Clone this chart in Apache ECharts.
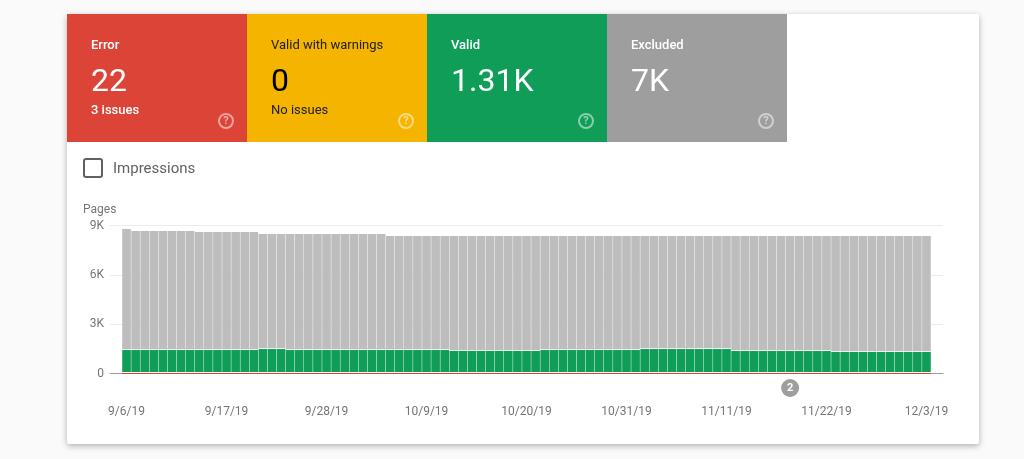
<!DOCTYPE html>
<html><head><meta charset="utf-8">
<style>html,body{margin:0;padding:0;background:#fafafa}#c{width:1024px;height:459px}</style>
<script src="https://cdn.jsdelivr.net/npm/echarts@6/dist/echarts.min.js"></script>
</head><body><div id="c"></div>
<script>
const categories = ["9/6/19","9/7/19","9/8/19","9/9/19","9/10/19","9/11/19","9/12/19","9/13/19","9/14/19","9/15/19","9/16/19","9/17/19","9/18/19","9/19/19","9/20/19","9/21/19","9/22/19","9/23/19","9/24/19","9/25/19","9/26/19","9/27/19","9/28/19","9/29/19","9/30/19",
"10/1/19","10/2/19","10/3/19","10/4/19","10/5/19","10/6/19","10/7/19","10/8/19","10/9/19","10/10/19","10/11/19","10/12/19","10/13/19","10/14/19","10/15/19","10/16/19","10/17/19","10/18/19","10/19/19","10/20/19","10/21/19","10/22/19","10/23/19","10/24/19","10/25/19","10/26/19","10/27/19","10/28/19","10/29/19","10/30/19","10/31/19",
"11/1/19","11/2/19","11/3/19","11/4/19","11/5/19","11/6/19","11/7/19","11/8/19","11/9/19","11/10/19","11/11/19","11/12/19","11/13/19","11/14/19","11/15/19","11/16/19","11/17/19","11/18/19","11/19/19","11/20/19","11/21/19","11/22/19","11/23/19","11/24/19","11/25/19","11/26/19","11/27/19","11/28/19","11/29/19","11/30/19",
"12/1/19","12/2/19","12/3/19"];
const errorValues = [22,22,22,22,22,22,22,22,22,22,22,22,22,22,22,22,22,22,22,22,22,22,22,22,22,22,22,22,22,22,22,22,22,22,22,22,22,22,22,22,22,22,22,22,22,22,22,22,22,22,22,22,22,22,22,22,22,22,22,22,22,22,22,22,22,22,22,22,22,22,22,22,22,22,22,22,22,22,22,22,22,22,22,22,22,22,22,22,22];
const validValues = [1430,1430,1430,1430,1430,1430,1430,1430,1430,1430,1430,1430,1430,1430,1430,
1490,1490,1490,
1430,1430,1430,1430,1430,1430,1430,1430,1430,1430,1430,1430,1430,1430,1430,1430,1430,1430,
1380,1380,1380,1380,1380,1380,1380,1380,1380,1380,
1430,1430,1430,1430,1430,1430,1430,1430,1430,1430,1430,
1490,1490,1490,1490,1490,1490,1490,1490,1490,1490,
1370,1370,1370,1370,1370,1370,1370,1370,1370,1370,1370,
1310,1310,1310,1310,1310,1310,1310,1310,1310,1310,1310];
const excludedValues = [7338,
7213,7213,7213,7213,7213,7213,7213,
7148,7148,7148,7148,7148,7148,7148,
6968,6968,6968,
7028,7028,7028,7028,7028,7028,7028,7028,7028,7028,7028,
6908,6908,6908,6908,6908,6908,6908,
6958,6958,6958,6958,6958,6958,6958,6958,6958,6958,
6908,6908,6908,6908,6908,6908,6908,6908,6908,6908,6908,
6848,6848,6848,6848,6848,6848,6848,6848,6848,6848,
6968,6968,6968,6968,6968,6968,6968,6968,6968,6968,6968,
7028,7028,7028,7028,7028,7028,7028,7028,7028,7028,7028];
const yTicks = [0,3000,6000,9000];
const eventDates = ["11/18/19"];
const eventCounts = [2];
const tileLabels = ["Error","Valid with warnings","Valid","Excluded"];
const tileValues = ["22","0","1.31K","7K"];
const tileNotes = ["3 issues","No issues","",""];
const tileColors = ["#DB4437","#F4B400","#0F9D58","#9E9E9E"];
const tileInks = ["#ffffff","#212121","#ffffff","#ffffff"];

const F = 'Roboto';
const plotTop = 225.5, plotHeight = 148;
const gfx = [
  {type:'rect',z:-10,shape:{x:67,y:14,width:912,height:430,r:2},style:{fill:'#fff',shadowBlur:6,shadowOffsetY:2,shadowColor:'rgba(0,0,0,0.3)'}},
  {type:'rect',z:-9,shape:{x:84,y:159,width:18,height:18,r:2},style:{fill:'#fff',stroke:'#616161',lineWidth:2}},
  {type:'text',x:113,y:169,style:{text:'Impressions',font:'15px '+F,fill:'#616161',verticalAlign:'middle'}},
  {type:'text',x:83,y:210,style:{text:'Pages',font:'12px '+F,fill:'#757575',verticalAlign:'middle'}}
];
tileLabels.forEach((t,i)=>{
  const x = 67+180*i, ink = tileInks[i];
  gfx.push({type:'rect',z:-8,shape:{x:x,y:14,width:180,height:128},style:{fill:tileColors[i]}});
  gfx.push({type:'text',x:x+24,y:46,style:{text:t,font:(i===1?'400':'500')+' 13px '+F,fill:ink,verticalAlign:'middle'}});
  gfx.push({type:'text',x:x+24,y:83,style:{text:tileValues[i],font:'32px '+F,fill:i===1?'#000':ink,verticalAlign:'middle'}});
  if(tileNotes[i]) gfx.push({type:'text',x:x+24,y:110.5,style:{text:tileNotes[i],font:(i===1?'400':'500')+' 13px '+F,fill:ink,verticalAlign:'middle'}});
  gfx.push({type:'circle',shape:{cx:x+159,cy:121,r:7},style:{fill:'none',stroke:'rgba(255,255,255,0.5)',lineWidth:2}});
  gfx.push({type:'text',x:x+159,y:121.5,style:{text:'?',font:'700 11px '+F,fill:'rgba(255,255,255,0.55)',align:'center',verticalAlign:'middle'}});
});

const chart = echarts.init(document.getElementById('c'),null,{renderer:'canvas',devicePixelRatio:1});
const seam = 0.45;
const pairs = arr => arr.map((v,i)=>[i,v]);
const renderStack = layer => (params, api) => {
  const i = api.value(0);
  const base = api.coord([i,0]);
  const w = api.size([1,0])[0];
  const err = errorValues[i], val = validValues[i], exc = excludedValues[i];
  const yErrVal = api.coord([i,err+val])[1];
  let y1, y2, fill, gap = seam;
  if (layer === 'error')      { y1 = base[1]; y2 = base[1]-1; fill = '#DB4437'; gap = 0; }
  else if (layer === 'valid') { y1 = base[1]-2; y2 = yErrVal; fill = '#0F9D58'; }
  else                        { y1 = yErrVal-0.8; y2 = api.coord([i,err+val+exc])[1]; fill = '#BDBDBD'; }
  return {type:'rect',shape:{x:base[0]-w/2+gap/2,y:y2,width:w-gap,height:y1-y2},style:{fill:fill}};
};
const stackSeries = (name,layer,arr,z) => ({name:name,type:'custom',xAxisIndex:1,yAxisIndex:1,z:z,clip:false,
  renderItem:renderStack(layer),encode:{x:0,y:1},data:pairs(arr)});
chart.setOption({
  animation:false,
  backgroundColor:'#fafafa',
  graphic:{elements:gfx},
  grid:[
    {left:110,width:833,top:plotTop,height:plotHeight},
    {left:122,width:809,top:plotTop,height:plotHeight+0.5}
  ],
  xAxis:[
    {gridIndex:0,type:'category',data:categories,axisTick:{show:false},axisLabel:{show:false},
     axisLine:{lineStyle:{color:'#9e9e9e',width:1}}},
    {gridIndex:1,type:'category',data:categories,axisTick:{show:false},axisLine:{show:false},
     axisLabel:{interval:10,margin:32,hideOverlap:false,showMinLabel:true,showMaxLabel:true,color:'#757575',fontFamily:F,fontSize:12}}
  ],
  yAxis:[
    {gridIndex:0,type:'value',min:0,max:9000,interval:3000,axisLine:{show:false},axisTick:{show:false},
     splitLine:{lineStyle:{color:'#ececec',width:1}},
     axisLabel:{margin:6,padding:[2,0,0,0],color:'#757575',fontFamily:F,fontSize:12,formatter:v=>yTicks.includes(v)?(v===0?'0':(v/1000)+'K'):''}},
    {gridIndex:1,type:'value',min:0,max:9000,interval:3000,show:false}
  ],
  series:[
    stackSeries('Error','error',errorValues,4),
    stackSeries('Valid','valid',validValues,3),
    stackSeries('Excluded','excluded',excludedValues,2),
    {name:'Events',type:'scatter',xAxisIndex:1,yAxisIndex:1,clip:false,z:5,symbol:'circle',symbolSize:18,symbolOffset:[0,14],
     itemStyle:{color:'#9e9e9e',opacity:1},
     data:eventDates.map((d,i)=>({value:[d,0],count:eventCounts[i]})),
     label:{show:true,position:'inside',formatter:p=>String(p.data.count),color:'#fff',fontFamily:F,fontSize:11,fontWeight:700}}
  ]
});
</script></body></html>
